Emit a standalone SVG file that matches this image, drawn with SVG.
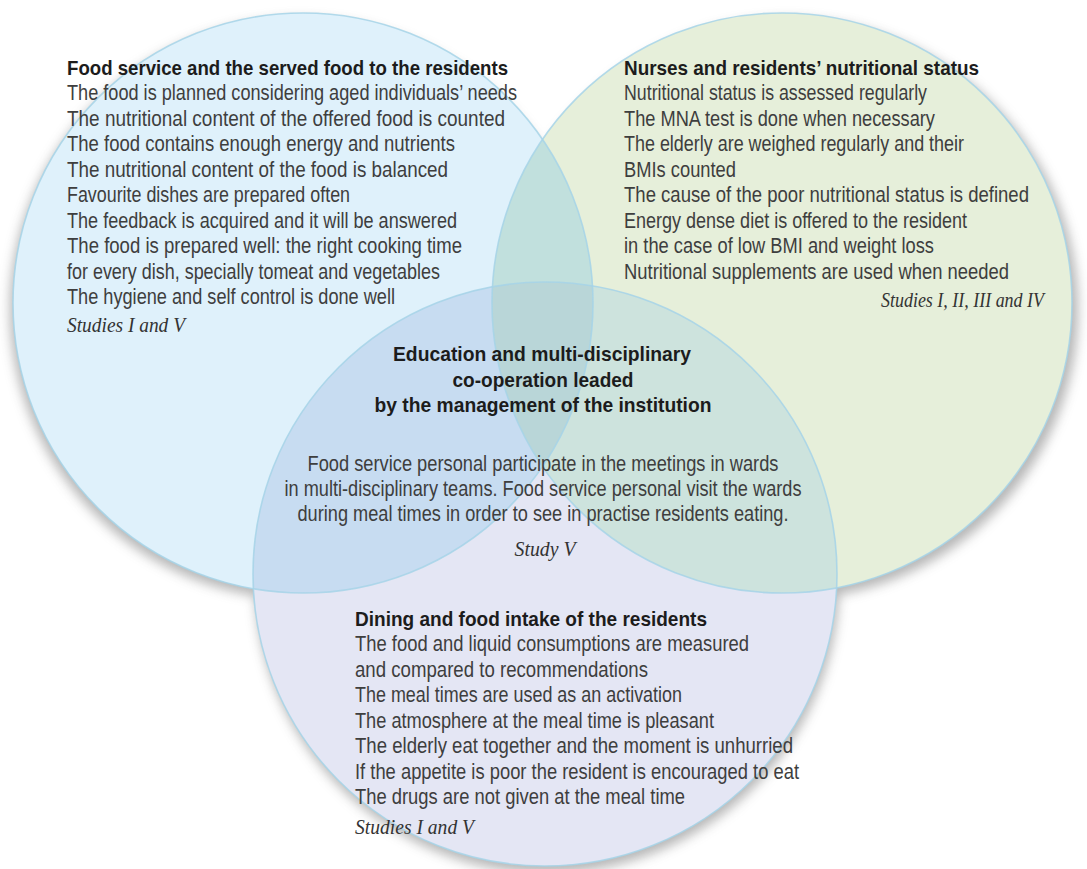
<svg xmlns="http://www.w3.org/2000/svg" width="1087" height="869" viewBox="0 0 1087 869">
  <defs>
    <style>
      .body { font-family: "Liberation Sans", Arial, sans-serif; font-size: 21.5px; fill: #3e3e3e; }
      .head { font-family: "Liberation Sans", Arial, sans-serif; font-size: 21px; font-weight: bold; fill: #1c1c1c; }
      .ref  { font-family: "Liberation Serif", "DejaVu Serif", serif; font-style: italic; font-size: 21px; fill: #333; }
      .mid  { text-anchor: middle; }
      .edge { fill: none; stroke: #a6d3e8; stroke-width: 1.6; stroke-opacity: 0.85; }
    </style>
    <circle id="cL" cx="303" cy="303" r="290"/>
    <circle id="cR" cx="782" cy="303" r="290"/>
    <circle id="cB" cx="545" cy="574" r="292"/>
    <clipPath id="clipL"><use href="#cL"/></clipPath>
    <clipPath id="clipR"><use href="#cR"/></clipPath>
    <clipPath id="clipB"><use href="#cB"/></clipPath>
    <filter id="shadow" x="-10%" y="-10%" width="120%" height="120%">
      <feGaussianBlur stdDeviation="6"/>
    </filter>
  </defs>

  <rect width="1087" height="869" fill="#ffffff"/>

  <!-- soft shadows under the three circles -->
  <g filter="url(#shadow)" fill="#6e6e6e" opacity="0.5">
    <use href="#cL" transform="translate(-3,6)"/>
    <use href="#cR" transform="translate(6,6)"/>
    <use href="#cB" transform="translate(2,7)"/>
  </g>

  <!-- circle fills and their overlaps -->
  <g id="venn">
    <use href="#cL" fill="#dff1fb"/>
    <use href="#cR" fill="#e6efda"/>
    <use href="#cB" fill="#e4e6f4"/>
    <use href="#cL" fill="#c1e0dd" clip-path="url(#clipR)"/>
    <use href="#cL" fill="#c7dcf1" clip-path="url(#clipB)"/>
    <use href="#cR" fill="#cde3dd" clip-path="url(#clipB)"/>
    <g clip-path="url(#clipB)">
      <use href="#cL" fill="#b9d6d8" clip-path="url(#clipR)"/>
    </g>
    <use href="#cL" class="edge"/>
    <use href="#cR" class="edge"/>
    <use href="#cB" class="edge"/>
  </g>

  <g id="food-service">
    <text class="head" x="67" y="75" textLength="441" lengthAdjust="spacingAndGlyphs">Food service and the served food to the residents</text>
    <text class="body" x="67" y="100" textLength="450" lengthAdjust="spacingAndGlyphs">The food is planned considering aged individuals’ needs</text>
    <text class="body" x="67" y="126" textLength="438" lengthAdjust="spacingAndGlyphs">The nutritional content of the offered food is counted</text>
    <text class="body" x="67" y="151" textLength="388" lengthAdjust="spacingAndGlyphs">The food contains enough energy and nutrients</text>
    <text class="body" x="67" y="177" textLength="381" lengthAdjust="spacingAndGlyphs">The nutritional content of the food is balanced</text>
    <text class="body" x="67" y="202" textLength="283" lengthAdjust="spacingAndGlyphs">Favourite dishes are prepared often</text>
    <text class="body" x="67" y="228" textLength="390" lengthAdjust="spacingAndGlyphs">The feedback is acquired and it will be answered</text>
    <text class="body" x="67" y="253" textLength="395" lengthAdjust="spacingAndGlyphs">The food is prepared well: the right cooking time</text>
    <text class="body" x="67" y="279" textLength="373" lengthAdjust="spacingAndGlyphs">for every dish, specially tomeat and vegetables</text>
    <text class="body" x="67" y="304" textLength="328" lengthAdjust="spacingAndGlyphs">The hygiene and self control is done well</text>
    <text class="ref" x="67" y="332" textLength="118" lengthAdjust="spacingAndGlyphs">Studies I and V</text>
  </g>

  <g id="nurses">
    <text class="head" x="624" y="75" textLength="355" lengthAdjust="spacingAndGlyphs">Nurses and residents’ nutritional status</text>
    <text class="body" x="624" y="100" textLength="303" lengthAdjust="spacingAndGlyphs">Nutritional status is assessed regularly</text>
    <text class="body" x="624" y="126" textLength="311" lengthAdjust="spacingAndGlyphs">The MNA test is done when necessary</text>
    <text class="body" x="624" y="151" textLength="340" lengthAdjust="spacingAndGlyphs">The elderly are weighed regularly and their</text>
    <text class="body" x="624" y="177" textLength="112" lengthAdjust="spacingAndGlyphs">BMIs counted</text>
    <text class="body" x="624" y="202" textLength="405" lengthAdjust="spacingAndGlyphs">The cause of the poor nutritional status is defined</text>
    <text class="body" x="624" y="228" textLength="343" lengthAdjust="spacingAndGlyphs">Energy dense diet is offered to the resident</text>
    <text class="body" x="624" y="253" textLength="310" lengthAdjust="spacingAndGlyphs">in the case of low BMI and weight loss</text>
    <text class="body" x="624" y="279" textLength="385" lengthAdjust="spacingAndGlyphs">Nutritional supplements are used when needed</text>
    <text class="ref" x="881" y="307" textLength="163" lengthAdjust="spacingAndGlyphs">Studies I, II, III and IV</text>
  </g>

  <g id="education">
    <text class="head mid" x="542" y="361" textLength="298" lengthAdjust="spacingAndGlyphs">Education and multi-disciplinary</text>
    <text class="head mid" x="543" y="387" textLength="181" lengthAdjust="spacingAndGlyphs">co-operation leaded</text>
    <text class="head mid" x="543" y="412" textLength="337" lengthAdjust="spacingAndGlyphs">by the management of the institution</text>
    <text class="body mid" x="543" y="471" textLength="471" lengthAdjust="spacingAndGlyphs">Food service personal participate in the meetings in wards</text>
    <text class="body mid" x="543" y="496" textLength="517" lengthAdjust="spacingAndGlyphs">in multi-disciplinary teams. Food service personal visit the wards</text>
    <text class="body mid" x="543" y="521" textLength="491" lengthAdjust="spacingAndGlyphs">during meal times in order to see in practise residents eating.</text>
    <text class="ref mid" x="545" y="556" textLength="61" lengthAdjust="spacingAndGlyphs">Study V</text>
  </g>

  <g id="dining">
    <text class="head" x="355" y="626" textLength="352" lengthAdjust="spacingAndGlyphs">Dining and food intake of the residents</text>
    <text class="body" x="355" y="651" textLength="394" lengthAdjust="spacingAndGlyphs">The food and liquid consumptions are measured</text>
    <text class="body" x="355" y="677" textLength="293" lengthAdjust="spacingAndGlyphs">and compared to recommendations</text>
    <text class="body" x="355" y="702" textLength="327" lengthAdjust="spacingAndGlyphs">The meal times are used as an activation</text>
    <text class="body" x="355" y="728" textLength="359" lengthAdjust="spacingAndGlyphs">The atmosphere at the meal time is pleasant</text>
    <text class="body" x="355" y="753" textLength="438" lengthAdjust="spacingAndGlyphs">The elderly eat together and the moment is unhurried</text>
    <text class="body" x="355" y="779" textLength="444" lengthAdjust="spacingAndGlyphs">If the appetite is poor the resident is encouraged to eat</text>
    <text class="body" x="355" y="804" textLength="330" lengthAdjust="spacingAndGlyphs">The drugs are not given at the meal time</text>
    <text class="ref" x="355" y="834" textLength="119" lengthAdjust="spacingAndGlyphs">Studies I and V</text>
  </g>
</svg>
